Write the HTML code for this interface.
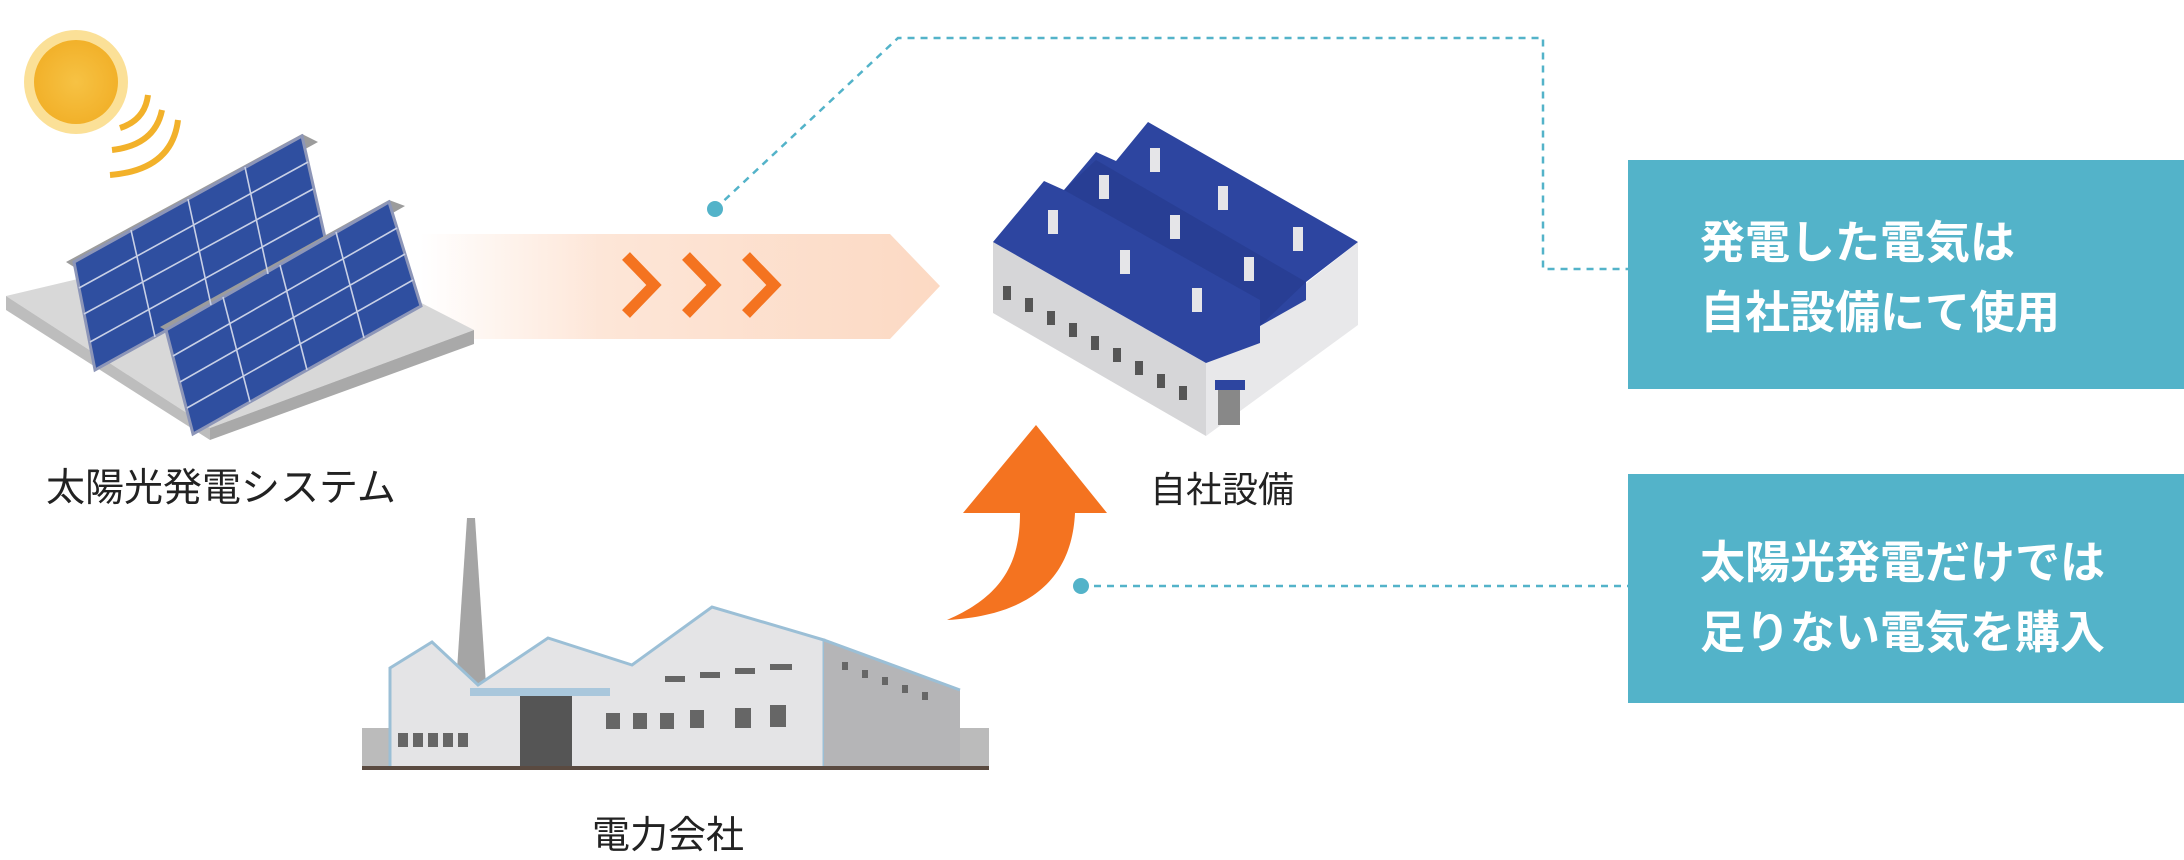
<!DOCTYPE html>
<html><head><meta charset="utf-8"><style>
html,body{margin:0;padding:0;background:#fff;}
body{width:2184px;height:860px;overflow:hidden;position:relative;font-family:"Liberation Sans","Noto Sans CJK JP",sans-serif;}
.lbl{position:absolute;font-size:36px;color:#222;white-space:nowrap;line-height:1;}
.box{position:absolute;left:1628px;width:556px;background:#53b3c9;color:#fff;font-weight:bold;font-size:45px;line-height:70px;box-sizing:border-box;padding-left:72px;white-space:nowrap;}
</style></head><body>
<svg width="2184" height="860" viewBox="0 0 2184 860" style="position:absolute;left:0;top:0">
<defs>
<linearGradient id="bg" x1="0" x2="1" y1="0" y2="0">
<stop offset="0" stop-color="#fde3d3" stop-opacity="0"/>
<stop offset="0.35" stop-color="#fde3d3" stop-opacity="0.9"/>
<stop offset="1" stop-color="#fcd9c3"/>
</linearGradient>
<radialGradient id="sun"><stop offset="0" stop-color="#f6c244"/><stop offset="1" stop-color="#f2b12a"/></radialGradient>
</defs>
<polyline points="715,209 898,38 1543,38 1543,269 1628,269" fill="none" stroke="#53b3c9" stroke-width="2.5" stroke-dasharray="7,6"/>
<line x1="1081" y1="586" x2="1628" y2="586" stroke="#53b3c9" stroke-width="2.5" stroke-dasharray="7,6"/>
<circle cx="715" cy="209" r="8" fill="#53b3c9"/>
<circle cx="1081" cy="586" r="8" fill="#53b3c9"/>
<polygon points="420,234 890,234 940,286 890,339 420,339" fill="url(#bg)"/>
<g fill="none" stroke="#f47320" stroke-width="11">
<polyline points="626,256 654,285 626,314"/>
<polyline points="686,256 714,285 686,314"/>
<polyline points="746,256 774,285 746,314"/>
</g>
<path d="M1036,425 L1107,513 L1075,513 C1072,575 1035,615 947,620 C1005,595 1020,560 1020,513 L963,513 Z" fill="#f47320"/>
<g transform="translate(76,82)">
<circle r="52" fill="#f7c230" opacity="0.5"/>
<circle r="42" fill="url(#sun)"/>
</g>
<g fill="none" stroke="#f2b12a" stroke-width="6">
<path d="M120,128 Q145,120 148,95"/>
<path d="M112,150 Q155,145 162,110"/>
<path d="M110,175 Q172,170 178,120"/>
</g>
<polygon points="6,296 281,231 474,330 210,428" fill="#d8d8d8"/>
<polygon points="6,296 210,428 210,440 6,310" fill="#bdbdbd"/>
<polygon points="210,428 474,330 474,344 210,440" fill="#a9a9a9"/>
<polygon points="66,262 302,134 318,142 82,272" fill="#9c9c9c"/>
<polygon points="74,262 302,136 326,242 95,370" fill="#2f4fa0" stroke="#8d96b8" stroke-width="3"/>
<polygon points="160,327 389,200 405,206 176,336" fill="#9c9c9c"/>
<polygon points="166,330 389,202 421,306 193,434" fill="#2f4fa0" stroke="#8d96b8" stroke-width="3"/>
<g stroke="#c8d0e6" stroke-width="1.6">
<line x1="131" y1="230" x2="155" y2="337"/><line x1="188" y1="199" x2="211" y2="305"/><line x1="245" y1="167" x2="268" y2="274"/>
<line x1="79" y1="288" x2="308" y2="162"/><line x1="84" y1="314" x2="313" y2="189"/><line x1="90" y1="342" x2="320" y2="215"/>
<line x1="223" y1="297" x2="250" y2="402"/><line x1="280" y1="265" x2="307" y2="370"/><line x1="336" y1="232" x2="364" y2="338"/>
<line x1="173" y1="356" x2="397" y2="228"/><line x1="180" y1="382" x2="405" y2="254"/><line x1="187" y1="408" x2="413" y2="280"/>
</g>
<polygon points="993,242 1206,363 1206,436 993,313" fill="#d6d6d8"/>
<polygon points="1206,363 1358,242 1358,325 1206,436" fill="#e8e8ea"/>
<polygon points="993,242 1044,181 1064,190 1096,152 1116,161 1148,122 1358,242 1306,282 1306,300 1260,326 1260,343 1206,363" fill="#2d45a0"/>
<polygon points="1064,190 1260,300 1260,326 1306,282 1096,160" fill="#243a8c" opacity="0.6"/>
<g fill="#e5e5e8">
<rect x="1150" y="148" width="10" height="24"/><rect x="1099" y="175" width="10" height="24"/><rect x="1218" y="186" width="10" height="24"/>
<rect x="1048" y="210" width="10" height="24"/><rect x="1170" y="215" width="10" height="24"/><rect x="1293" y="227" width="10" height="24"/>
<rect x="1120" y="250" width="10" height="24"/><rect x="1244" y="257" width="10" height="24"/><rect x="1192" y="288" width="10" height="24"/>
</g>
<g fill="#555">
<rect x="1003" y="286" width="8" height="14"/><rect x="1025" y="298" width="8" height="14"/><rect x="1047" y="311" width="8" height="14"/><rect x="1069" y="323" width="8" height="14"/><rect x="1091" y="336" width="8" height="14"/><rect x="1113" y="348" width="8" height="14"/><rect x="1135" y="361" width="8" height="14"/><rect x="1157" y="374" width="8" height="14"/><rect x="1179" y="386" width="8" height="14"/>
</g>
<rect x="1215" y="380" width="30" height="10" fill="#2d45a0"/>
<rect x="1218" y="390" width="22" height="35" fill="#888"/>
<rect x="362" y="728" width="627" height="40" fill="#bbb"/>
<polygon points="455,700 467,518 475,518 487,700" fill="#a5a5a5"/>
<polygon points="390,668 432,642 478,685 548,638 632,665 712,607 824,640 824,768 390,768" fill="#e4e4e6" stroke="#9bbfd6" stroke-width="3"/>
<polygon points="824,640 960,690 960,768 824,768" fill="#b5b5b7"/>
<line x1="824" y1="640" x2="960" y2="690" stroke="#9bbfd6" stroke-width="3"/>
<rect x="470" y="688" width="140" height="8" fill="#a9c7dc"/>
<rect x="520" y="696" width="52" height="72" fill="#555"/>
<g fill="#666">
<rect x="398" y="733" width="10" height="14"/><rect x="413" y="733" width="10" height="14"/><rect x="428" y="733" width="10" height="14"/><rect x="443" y="733" width="10" height="14"/><rect x="458" y="733" width="10" height="14"/>
<rect x="606" y="713" width="14" height="16"/><rect x="633" y="713" width="14" height="16"/><rect x="660" y="713" width="14" height="16"/><rect x="690" y="710" width="14" height="18"/><rect x="735" y="708" width="16" height="20"/><rect x="770" y="705" width="16" height="22"/>
<rect x="665" y="676" width="20" height="6"/><rect x="700" y="672" width="20" height="6"/><rect x="735" y="668" width="20" height="6"/><rect x="770" y="664" width="22" height="6"/>
<rect x="842" y="662" width="6" height="8"/><rect x="862" y="670" width="6" height="8"/><rect x="882" y="677" width="6" height="8"/><rect x="902" y="685" width="6" height="8"/><rect x="922" y="692" width="6" height="8"/>
</g>
<rect x="362" y="766" width="627" height="4" fill="#5a4a40"/>
</svg>
<div class="lbl" style="left:46px;top:469px;font-size:39px">太陽光発電システム</div>
<div class="lbl" style="left:1150px;top:472px">自社設備</div>
<div class="lbl" style="left:592px;top:817px;font-size:38px">電力会社</div>
<div class="box" style="top:160px;height:229px;padding-top:48px">発電した電気は<br>自社設備にて使用</div>
<div class="box" style="top:474px;height:229px;padding-top:54px">太陽光発電だけでは<br>足りない電気を購入</div>
</body></html>
